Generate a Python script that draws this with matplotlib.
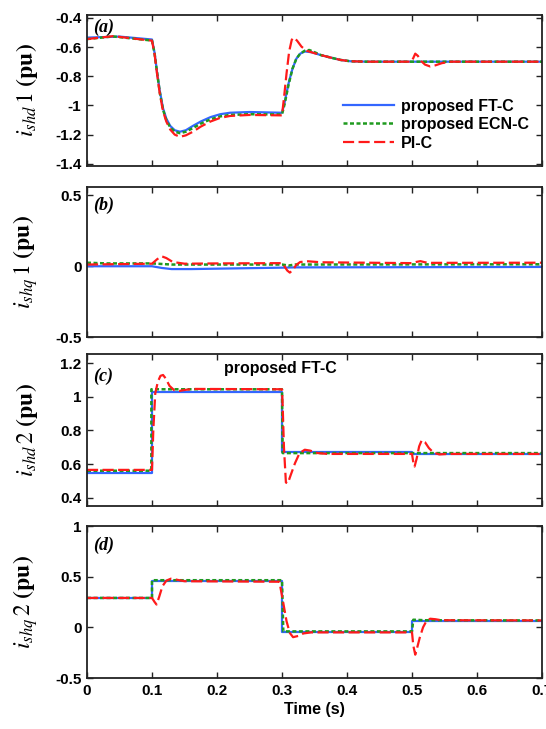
#!/usr/bin/env python3
# -*- coding: utf-8 -*-
"""
Shunt converter current responses (i_shd1, i_shq1, i_shd2, i_shq2)
proposed FT-C / proposed ECN-C / PI-C comparison, 4 stacked panels
"""

import matplotlib
matplotlib.use('Agg')
import matplotlib.pyplot as plt
from matplotlib.ticker import FuncFormatter
from matplotlib.font_manager import FontProperties

# ---- values ----
# panel (a) i_shd1
t_a_ft = [0, 0.05, 0.1, 0.104, 0.108, 0.112, 0.117, 0.122, 0.128, 0.135, 0.143, 0.152,
          0.163, 0.175, 0.19, 0.205, 0.22, 0.25, 0.28, 0.3, 0.304, 0.31, 0.316, 0.322,
          0.328, 0.335, 0.345, 0.36, 0.375, 0.39, 0.405, 0.43, 0.7]
v_a_ft = [-0.535, -0.528, -0.548, -0.64, -0.78, -0.9, -1.02, -1.09, -1.14, -1.17, -1.18, -1.17,
          -1.14, -1.11, -1.08, -1.06, -1.05, -1.045, -1.048, -1.05, -0.98, -0.85, -0.75, -0.68,
          -0.645, -0.63, -0.635, -0.655, -0.672, -0.688, -0.697, -0.70, -0.70]
t_a_ecn = [0, 0.04, 0.1, 0.104, 0.108, 0.112, 0.117, 0.122, 0.128, 0.135, 0.143, 0.152,
           0.163, 0.175, 0.19, 0.205, 0.22, 0.25, 0.3, 0.304, 0.31, 0.316, 0.322, 0.328,
           0.335, 0.342, 0.35, 0.36, 0.375, 0.39, 0.405, 0.43, 0.7]
v_a_ecn = [-0.545, -0.527, -0.555, -0.645, -0.78, -0.91, -1.03, -1.10, -1.15, -1.18, -1.19, -1.18,
           -1.155, -1.125, -1.095, -1.075, -1.065, -1.06, -1.062, -0.99, -0.86, -0.75, -0.68, -0.645,
           -0.625, -0.62, -0.635, -0.655, -0.672, -0.688, -0.697, -0.70, -0.70]
t_a_pi = [0, 0.04, 0.1, 0.104, 0.108, 0.112, 0.117, 0.122, 0.128, 0.135, 0.143, 0.152,
          0.163, 0.175, 0.19, 0.205, 0.22, 0.25, 0.3, 0.303, 0.307, 0.311, 0.315, 0.318,
          0.323, 0.33, 0.338, 0.345, 0.36, 0.375, 0.39, 0.405, 0.43, 0.499, 0.502, 0.505,
          0.509, 0.514, 0.52, 0.528, 0.536, 0.546, 0.56, 0.7]
v_a_pi = [-0.545, -0.525, -0.556, -0.65, -0.79, -0.92, -1.04, -1.11, -1.165, -1.20, -1.215, -1.205,
          -1.18, -1.145, -1.11, -1.085, -1.072, -1.065, -1.068, -0.95, -0.78, -0.63, -0.55, -0.535,
          -0.555, -0.597, -0.625, -0.635, -0.655, -0.672, -0.688, -0.697, -0.70, -0.70, -0.675, -0.645,
          -0.66, -0.695, -0.72, -0.733, -0.725, -0.71, -0.70, -0.70]

# panel (b) i_shq1
t_b_ft = [0, 0.1, 0.115, 0.13, 0.16, 0.23, 0.3, 0.32, 0.7]
v_b_ft = [0.0, 0.0, -0.012, -0.02, -0.02, -0.015, -0.01, -0.008, -0.005]
t_b_ecn = [0, 0.03, 0.1, 0.13, 0.3, 0.31, 0.32, 0.7]
v_b_ecn = [0.025, 0.02, 0.02, 0.012, 0.012, 0.005, 0.012, 0.014]
t_b_pi = [0, 0.1, 0.108, 0.115, 0.122, 0.132, 0.15, 0.2, 0.3, 0.303, 0.308, 0.312, 0.317,
          0.322, 0.328, 0.34, 0.36, 0.5, 0.506, 0.513, 0.52, 0.53, 0.7]
v_b_pi = [0.012, 0.018, 0.05, 0.07, 0.058, 0.03, 0.018, 0.02, 0.022, 0.005, -0.03, -0.045, -0.025,
          0.01, 0.03, 0.035, 0.028, 0.022, 0.03, 0.036, 0.028, 0.024, 0.025]

# panel (c) i_shd2
t_c_ft = [0, 0.1, 0.1, 0.3, 0.3, 0.5, 0.5, 0.7]
v_c_ft = [0.548, 0.548, 1.03, 1.03, 0.672, 0.672, 0.662, 0.662]
t_c_ecn = [0, 0.099, 0.099, 0.3, 0.301, 0.5, 0.7]
v_c_ecn = [0.56, 0.56, 1.045, 1.045, 0.665, 0.665, 0.665]
t_c_pi = [0, 0.1, 0.102, 0.105, 0.109, 0.113, 0.117, 0.121, 0.127, 0.134, 0.142, 0.152, 0.165,
          0.3, 0.301, 0.303, 0.306, 0.309, 0.313, 0.32, 0.327, 0.335, 0.343, 0.355, 0.37,
          0.5, 0.502, 0.504, 0.507, 0.511, 0.515, 0.52, 0.526, 0.533, 0.542, 0.555, 0.7]
v_c_pi = [0.565, 0.565, 0.8, 1.02, 1.09, 1.125, 1.13, 1.11, 1.065, 1.04, 1.035, 1.042, 1.047,
          1.045, 0.95, 0.70, 0.49, 0.485, 0.53, 0.605, 0.665, 0.685, 0.68, 0.665, 0.66,
          0.66, 0.61, 0.585, 0.63, 0.705, 0.742, 0.73, 0.695, 0.668, 0.657, 0.66, 0.66]

# panel (d) i_shq2
t_d_ft = [0, 0.1, 0.1, 0.3, 0.3, 0.5, 0.5, 0.7]
v_d_ft = [0.29, 0.29, 0.46, 0.46, -0.045, -0.045, 0.065, 0.065]
t_d_ecn = [0, 0.1, 0.1, 0.3, 0.302, 0.5, 0.502, 0.52, 0.7]
v_d_ecn = [0.29, 0.29, 0.465, 0.465, -0.04, -0.04, 0.075, 0.07, 0.068]
t_d_pi = [0, 0.1, 0.104, 0.107, 0.111, 0.116, 0.122, 0.129, 0.138, 0.15, 0.296, 0.298,
          0.302, 0.307, 0.312, 0.317, 0.325, 0.333, 0.345, 0.5, 0.502, 0.505, 0.508,
          0.512, 0.517, 0.522, 0.528, 0.536, 0.545, 0.7]
v_d_pi = [0.29, 0.29, 0.25, 0.225, 0.3, 0.405, 0.46, 0.48, 0.47, 0.455, 0.45, 0.38,
          0.24, 0.06, -0.055, -0.097, -0.085, -0.06, -0.05, -0.05, -0.18, -0.27, -0.2,
          -0.1, 0.0, 0.06, 0.085, 0.08, 0.07, 0.068]

series_labels = ['proposed FT-C', 'proposed ECN-C', 'PI-C']
panel_tags = ['(a)', '(b)', '(c)', '(d)']
x_ticks = [0, 0.1, 0.2, 0.3, 0.4, 0.5, 0.6, 0.7]
y_ticks = [[-1.4, -1.2, -1.0, -0.8, -0.6, -0.4],
           [-0.5, 0, 0.5],
           [0.4, 0.6, 0.8, 1.0, 1.2],
           [-0.5, 0, 0.5, 1.0]]
y_limits = [(-1.415, -0.38), (-0.5, 0.56), (0.35, 1.255), (-0.5, 1.0)]
y_names = [r'$i_{shd}\,\mathrm{1}\ \mathbf{(pu)}$', r'$i_{shq}\,\mathrm{1}\ \mathbf{(pu)}$',
           r'$i_{shd}\,\mathrm{2}\ \mathbf{(pu)}$', r'$i_{shq}\,\mathrm{2}\ \mathbf{(pu)}$']

# 색 / 선 스타일
BLUE = '#3366ff'
GREEN = '#1f9a1f'
RED = '#ff1a1a'

plt.rcParams['axes.unicode_minus'] = False
plt.rcParams['mathtext.fontset'] = 'stix'


def fmt(v, pos):
    return '%g' % round(v, 3)


def main():
    W, H = 546, 729
    fig = plt.figure(figsize=(W / 100, H / 100), dpi=100)

    # axes box in pixels (top, bottom), left/right shared
    boxes = [(15, 166), (187, 337), (354, 506), (526, 678)]
    left, right = 87, 542

    data = [
        (t_a_ft, v_a_ft, t_a_ecn, v_a_ecn, t_a_pi, v_a_pi),
        (t_b_ft, v_b_ft, t_b_ecn, v_b_ecn, t_b_pi, v_b_pi),
        (t_c_ft, v_c_ft, t_c_ecn, v_c_ecn, t_c_pi, v_c_pi),
        (t_d_ft, v_d_ft, t_d_ecn, v_d_ecn, t_d_pi, v_d_pi),
    ]
    tag_y = [27, 205, 376, 545]  # pixel centre of the (a)..(d) tags

    tick_font = FontProperties(family='Liberation Sans', weight='bold', size=11)

    for i, (top, bot) in enumerate(boxes):
        ax = fig.add_axes([left / W, 1 - bot / H, (right - left) / W, (bot - top) / H])
        tf, vf, te, ve, tp, vp = data[i]
        ax.plot(tf, vf, color=BLUE, lw=1.6, ls='-', label=series_labels[0])
        ax.plot(te, ve, color=GREEN, lw=1.8, ls=(0, (1.6, 1.0)), label=series_labels[1])
        ax.plot(tp, vp, color=RED, lw=1.6, ls=(0, (5, 2)), label=series_labels[2])

        ax.set_xlim(0, 0.7)
        ax.set_ylim(*y_limits[i])
        ax.set_xticks(x_ticks)
        ax.set_yticks(y_ticks[i])
        ax.yaxis.set_major_formatter(FuncFormatter(fmt))
        ax.xaxis.set_major_formatter(FuncFormatter(fmt))
        ax.tick_params(direction='in', length=4, width=1, top=True, right=True,
                       color='#222222', pad=4)
        for lab in ax.get_yticklabels() + ax.get_xticklabels():
            lab.set_fontproperties(tick_font)
        if i < 3:
            ax.set_xticklabels([])
        else:
            ax.set_xlabel('Time (s)', fontfamily='Liberation Sans', fontweight='bold',
                          fontsize=11.5, labelpad=3)

        for sp in ax.spines.values():
            sp.set_linewidth(1.3)
            sp.set_color('#222222')

        ax.set_ylabel(y_names[i], fontsize=17)
        ax.yaxis.set_label_coords(-0.103, 0.5)

        ty = (bot - tag_y[i]) / (bot - top)
        ax.text(0.013, ty, panel_tags[i], transform=ax.transAxes, ha='left', va='center',
                fontfamily='Liberation Serif', fontstyle='italic', fontweight='bold', fontsize=13)

        if i == 0:
            ax.legend(loc='lower right', bbox_to_anchor=(0.985, 0.06), frameon=False,
                      prop=dict(family='Liberation Sans', weight='bold', size=11.5),
                      handlelength=3.2, handletextpad=0.4, labelspacing=0.22,
                      borderaxespad=0.0)
        if i == 2:
            ax.text(0.425, (bot - 369) / (bot - top), 'proposed FT-C', transform=ax.transAxes,
                    ha='center', va='center', fontfamily='Liberation Sans',
                    fontweight='bold', fontsize=11.5)

    fig.savefig('out.png', dpi=100)


if __name__ == "__main__":
    main()
